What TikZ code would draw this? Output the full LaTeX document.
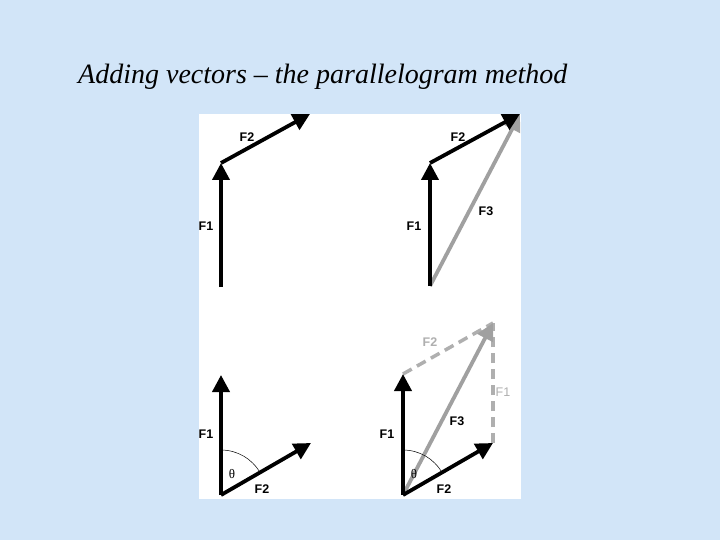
\documentclass[tikz,border=0pt]{standalone}
\usepackage{fontspec}
\setmainfont{Liberation Serif}
\newfontfamily\labfont{Liberation Sans}
\usetikzlibrary{arrows.meta}
\definecolor{bgblue}{RGB}{210,229,248}
\definecolor{vgrey}{RGB}{160,160,160}
\definecolor{dgrey}{RGB}{175,175,175}
\tikzset{
  vec/.style={line width=3.8pt,-{Triangle[length=17pt,width=17pt]}},
  gvec/.style={vec,draw=vgrey},
  dvec/.style={line width=3.5pt,draw=dgrey,dash pattern=on 10pt off 6pt},
  lab/.style={font=\labfont\bfseries\fontsize{12.5}{14}\selectfont,inner sep=0pt},
  glab/.style={lab,text=dgrey},
  thlab/.style={font=\fontsize{13}{14}\selectfont,inner sep=0pt},
}
\begin{document}
\begin{tikzpicture}[x=1pt,y=-1pt]
\fill[bgblue] (0,0) rectangle (720,540);
\useasboundingbox (0,0) rectangle (720,540);
\node[anchor=base west,inner sep=0pt,font=\itshape\fontsize{28}{32}\selectfont] (title) at (78,84) {Adding vectors -- the parallelogram method};
\fill[white] (199,114) rectangle (521,499);
% panel 1
\coordinate (a0) at (221,287);
\coordinate (a1) at (221,163);
\coordinate (a2) at (310,114);
\draw[vec] (a0) -- (a1);
\draw[vec] (a1) -- (a2);
\node[lab] (a1l) at (206,226) {F1};
\node[lab] (a2l) at (247,137) {F2};
% panel 2
\coordinate (b0) at (430,286);
\coordinate (b1) at (430,163);
\coordinate (b2) at (520,114);
\draw[gvec] (b0) -- (b2);
\draw[vec] (b0) -- (b1);
\draw[vec] (b1) -- (b2);
\node[lab] (b1l) at (414,226) {F1};
\node[lab] (b2l) at (458,137) {F2};
\node[lab] (b3l) at (486,211) {F3};
% panel 3
\coordinate (c0) at (221,495);
\coordinate (c1) at (221,375);
\coordinate (c2) at (311,443);
\draw[vec] (c0) -- (c1);
\draw[vec] (c0) -- (c2);
\draw[line width=0.5pt] ([yshift=45pt]c0) arc[start angle=90,end angle=30,radius=45pt];
\node[thlab] (cth) at (232,474) {θ};
\node[lab] (c1l) at (206,434) {F1};
\node[lab] (c2l) at (262,489) {F2};
% panel 4
\coordinate (d0) at (403,495);
\coordinate (d1) at (403,374);
\coordinate (d2) at (493,443);
\coordinate (d3) at (493,323);
\draw[dvec] (d1) -- (d3);
\draw[dvec] (d2) -- (d3);
\draw[gvec] (d0) -- (d3);
\draw[vec] (d0) -- (d1);
\draw[vec] (d0) -- (d2);
\draw[line width=0.5pt] ([yshift=45pt]d0) arc[start angle=90,end angle=30,radius=45pt];
\node[thlab] (dth) at (414,474) {θ};
\node[lab] (d1l) at (387,434) {F1};
\node[lab] (d2l) at (444,489) {F2};
\node[lab] (d3l) at (457,421) {F3};
\node[glab] (d4l) at (430,342) {F2};
\node[glab,font=\labfont\fontsize{12.5}{14}\selectfont] (d5l) at (503,392) {F1};
\end{tikzpicture}
\end{document}
